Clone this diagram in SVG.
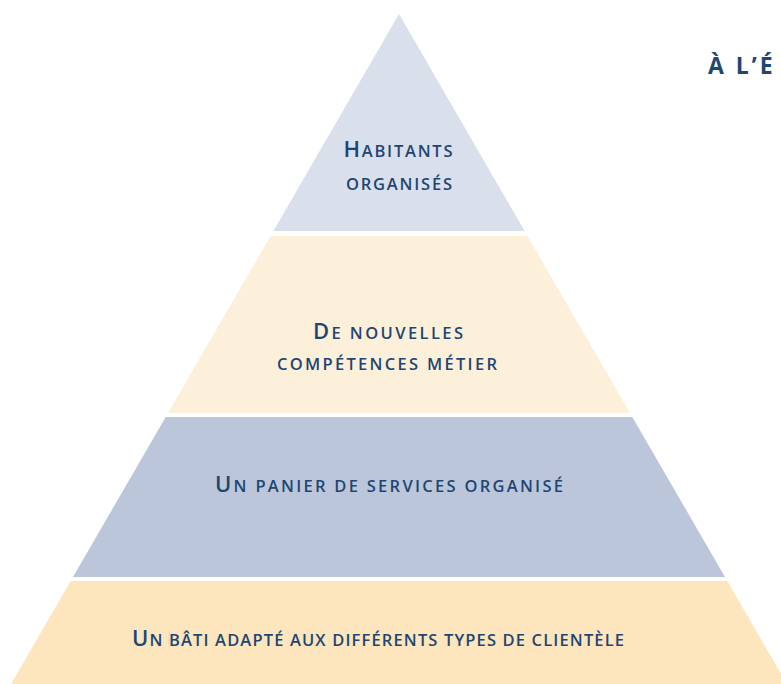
<svg xmlns="http://www.w3.org/2000/svg" width="781" height="684" viewBox="0 0 781 684">
  <style>
    .lbl { font-family: "Open Sans", "Liberation Sans", sans-serif; font-weight: 600; font-size: 16.5px; fill: #1e4673; text-anchor: middle; }
    .cap { font-size: 22px; }
    .title { font-family: "Open Sans", "Liberation Sans", sans-serif; font-weight: 700; font-size: 23px; fill: #1e4673; letter-spacing: 3px; }
  </style>
  <rect x="0" y="0" width="781" height="684" fill="#ffffff"/>
  <text class="title" x="708" y="74">À L’É</text>
  <g id="layer1">
    <polygon points="399,14 524.6,231 273.4,231" fill="#d9dfeb"/>
    <text class="lbl" x="398" y="157" textLength="109" lengthAdjust="spacing"><tspan class="cap">H</tspan>ABITANTS</text>
    <text class="lbl" x="399" y="190" textLength="106" lengthAdjust="spacing">ORGANISÉS</text>
  </g>
  <g id="layer2">
    <polygon points="270.5,236 527.5,236 630,413 168,413" fill="#fdf0da"/>
    <text class="lbl" x="388" y="339" textLength="150" lengthAdjust="spacing"><tspan class="cap">D</tspan>E NOUVELLES</text>
    <text class="lbl" x="387" y="370" textLength="220" lengthAdjust="spacing">COMPÉTENCES MÉTIER</text>
  </g>
  <g id="layer3">
    <polygon points="165.7,417 632.3,417 725,577 73,577" fill="#bbc6da"/>
    <text class="lbl" x="389" y="492" textLength="348" lengthAdjust="spacing"><tspan class="cap">U</tspan>N PANIER DE SERVICES ORGANISÉ</text>
  </g>
  <g id="layer4">
    <polygon points="70.7,581 727.3,581 790.4,690 7.6,690" fill="#fde5bd"/>
    <text class="lbl" x="378" y="646" textLength="492" lengthAdjust="spacing"><tspan class="cap">U</tspan>N BÂTI ADAPTÉ AUX DIFFÉRENTS TYPES DE CLIENTÈLE</text>
  </g>
  <g id="connectors"/>
</svg>
